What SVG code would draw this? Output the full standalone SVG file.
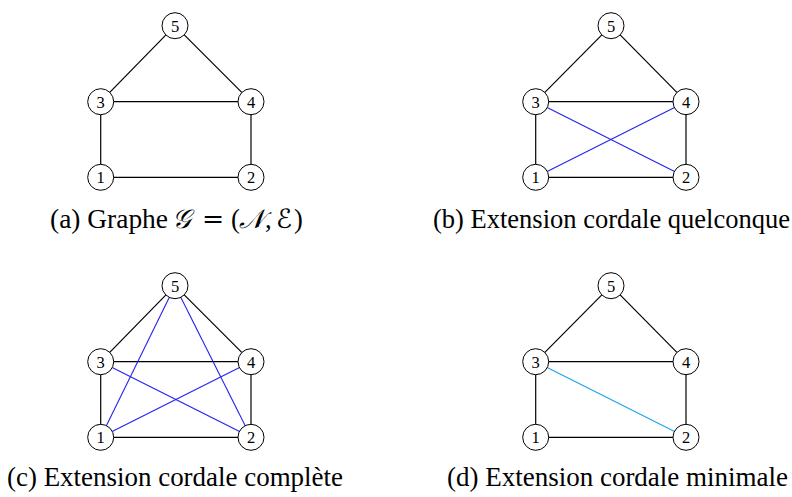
<svg xmlns="http://www.w3.org/2000/svg" width="792" height="497" viewBox="0 0 792 497">
<style>
.e{stroke:#000;stroke-width:1.2;fill:none}
.b{stroke:#2323ee;stroke-width:1.1;fill:none}
.c{stroke:#1aa6e6;stroke-width:1.1;fill:none}
.n circle{fill:#fff;stroke:#000;stroke-width:1}
.n text{font-family:"Liberation Serif",serif;font-size:16.5px;text-anchor:middle;fill:#000}
.cap{font-family:"Liberation Serif",serif;font-size:26.5px;fill:#000}
.m{font-family:"DejaVu Serif","DejaVu Sans",serif;font-style:italic}
.eq{font-family:"DejaVu Serif","DejaVu Sans",serif}
</style>
<g id="connectors">
<g id="ga-edges">
<line class="e" x1="175" y1="25.7" x2="100.7" y2="101.7"/>
<line class="e" x1="175" y1="25.7" x2="251" y2="101.7"/>
<line class="e" x1="100.7" y1="101.7" x2="251" y2="101.7"/>
<line class="e" x1="100.7" y1="101.7" x2="100.7" y2="177.3"/>
<line class="e" x1="251" y1="101.7" x2="251" y2="177.3"/>
<line class="e" x1="100.7" y1="177.3" x2="251" y2="177.3"/>
</g>
<g id="gb-edges">
<line class="e" x1="611" y1="25.7" x2="535.7" y2="101.7"/>
<line class="e" x1="611" y1="25.7" x2="686" y2="101.7"/>
<line class="e" x1="535.7" y1="101.7" x2="686" y2="101.7"/>
<line class="e" x1="535.7" y1="101.7" x2="535.7" y2="177.3"/>
<line class="e" x1="686" y1="101.7" x2="686" y2="177.3"/>
<line class="e" x1="535.7" y1="177.3" x2="686" y2="177.3"/>
<line class="b" x1="535.7" y1="101.7" x2="686" y2="177.3"/>
<line class="b" x1="535.7" y1="177.3" x2="686" y2="101.7"/>
</g>
<g id="gc-edges">
<line class="e" x1="175" y1="285.7" x2="100.7" y2="361.7"/>
<line class="e" x1="175" y1="285.7" x2="251" y2="361.7"/>
<line class="e" x1="100.7" y1="361.7" x2="251" y2="361.7"/>
<line class="e" x1="100.7" y1="361.7" x2="100.7" y2="437.3"/>
<line class="e" x1="251" y1="361.7" x2="251" y2="437.3"/>
<line class="e" x1="100.7" y1="437.3" x2="251" y2="437.3"/>
<line class="b" x1="100.7" y1="361.7" x2="251" y2="437.3"/>
<line class="b" x1="100.7" y1="437.3" x2="251" y2="361.7"/>
<line class="b" x1="175" y1="285.7" x2="100.7" y2="437.3"/>
<line class="b" x1="175" y1="285.7" x2="251" y2="437.3"/>
</g>
<g id="gd-edges">
<line class="e" x1="611" y1="285.7" x2="535.7" y2="361.7"/>
<line class="e" x1="611" y1="285.7" x2="686" y2="361.7"/>
<line class="e" x1="535.7" y1="361.7" x2="686" y2="361.7"/>
<line class="e" x1="535.7" y1="361.7" x2="535.7" y2="437.3"/>
<line class="e" x1="686" y1="361.7" x2="686" y2="437.3"/>
<line class="e" x1="535.7" y1="437.3" x2="686" y2="437.3"/>
<line class="c" x1="535.7" y1="361.7" x2="686" y2="437.3"/>
</g>
</g>
<g id="a5" class="n" transform="translate(175,25.7)"><circle r="13"/><text y="5.8">5</text></g>
<g id="a3" class="n" transform="translate(100.7,101.7)"><circle r="13"/><text y="5.8">3</text></g>
<g id="a4" class="n" transform="translate(251,101.7)"><circle r="13"/><text y="5.8">4</text></g>
<g id="a1" class="n" transform="translate(100.7,177.3)"><circle r="13"/><text y="5.8">1</text></g>
<g id="a2" class="n" transform="translate(251,177.3)"><circle r="13"/><text y="5.8">2</text></g>
<g id="b5" class="n" transform="translate(611,25.7)"><circle r="13"/><text y="5.8">5</text></g>
<g id="b3" class="n" transform="translate(535.7,101.7)"><circle r="13"/><text y="5.8">3</text></g>
<g id="b4" class="n" transform="translate(686,101.7)"><circle r="13"/><text y="5.8">4</text></g>
<g id="b1" class="n" transform="translate(535.7,177.3)"><circle r="13"/><text y="5.8">1</text></g>
<g id="b2" class="n" transform="translate(686,177.3)"><circle r="13"/><text y="5.8">2</text></g>
<g id="c5" class="n" transform="translate(175,285.7)"><circle r="13"/><text y="5.8">5</text></g>
<g id="c3" class="n" transform="translate(100.7,361.7)"><circle r="13"/><text y="5.8">3</text></g>
<g id="c4" class="n" transform="translate(251,361.7)"><circle r="13"/><text y="5.8">4</text></g>
<g id="c1" class="n" transform="translate(100.7,437.3)"><circle r="13"/><text y="5.8">1</text></g>
<g id="c2" class="n" transform="translate(251,437.3)"><circle r="13"/><text y="5.8">2</text></g>
<g id="d5" class="n" transform="translate(611,285.7)"><circle r="13"/><text y="5.8">5</text></g>
<g id="d3" class="n" transform="translate(535.7,361.7)"><circle r="13"/><text y="5.8">3</text></g>
<g id="d4" class="n" transform="translate(686,361.7)"><circle r="13"/><text y="5.8">4</text></g>
<g id="d1" class="n" transform="translate(535.7,437.3)"><circle r="13"/><text y="5.8">1</text></g>
<g id="d2" class="n" transform="translate(686,437.3)"><circle r="13"/><text y="5.8">2</text></g>
<g id="captions">
<text class="cap" y="227.5"><tspan x="50" textLength="118" lengthAdjust="spacingAndGlyphs">(a) Graphe</tspan><tspan class="m" x="172">𝒢</tspan><tspan class="eq" x="202">=</tspan><tspan x="231">(</tspan><tspan class="m" x="239">𝒩</tspan><tspan x="265">,</tspan><tspan class="m" x="276">ℰ</tspan><tspan x="294">)</tspan></text>
<text class="cap" x="433" y="227.5" textLength="357" lengthAdjust="spacingAndGlyphs">(b) Extension cordale quelconque</text>
<text class="cap" x="7" y="486" textLength="336" lengthAdjust="spacingAndGlyphs">(c) Extension cordale complète</text>
<text class="cap" x="447" y="486" textLength="341" lengthAdjust="spacingAndGlyphs">(d) Extension cordale minimale</text>
</g>
</svg>
